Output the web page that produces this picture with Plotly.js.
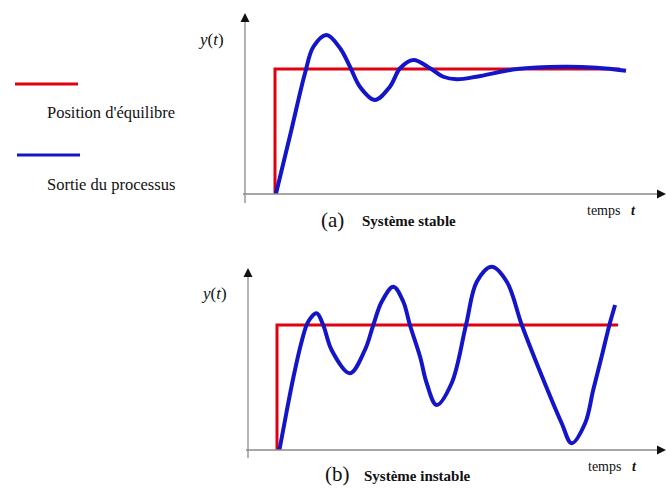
<!DOCTYPE html>
<html>
<head>
<meta charset="utf-8">
<script src="https://cdn.plot.ly/plotly-3.0.1.min.js"></script>
<style>
  html, body { margin: 0; padding: 0; background: #fff; }
  #chart { width: 667px; height: 488px; }
</style>
</head>
<body>
<div id="chart"></div>
<script>
// (a) systeme stable : temps et sortie
const tStable = [1.03, 1.52, 2.0, 2.28, 2.72, 3.17, 3.5, 3.83, 4.33, 4.83, 5.17, 5.61, 6.17, 6.61, 7.06, 7.72, 9.07, 10.6, 11.73, 12.7];
const yStable = [0, 0.486, 0.966, 1.178, 1.272, 1.166, 1.018, 0.858, 0.752, 0.858, 1.006, 1.072, 1.006, 0.938, 0.918, 0.938, 1.0, 1.018, 1.01, 0.986];
const tEqA = [1, 1, 12.5];
const yEqA = [0, 1, 1];

// (b) systeme instable
const tUnstable = [1.08, 1.32, 1.54, 1.82, 2.04, 2.32, 2.54, 2.82, 3.43, 3.93, 4.21, 4.49, 4.88, 5.21, 5.43, 5.77, 5.99, 6.32, 6.82, 7.3, 7.66, 8.16, 8.66, 9.16, 9.77, 10.49, 10.82, 11.27, 11.54, 11.82, 12.08, 12.27];
const yUnstable = [0, 0.306, 0.574, 0.866, 1.026, 1.094, 1.0, 0.8, 0.614, 0.8, 1.0, 1.186, 1.306, 1.186, 1.0, 0.746, 0.534, 0.36, 0.534, 1.0, 1.346, 1.466, 1.346, 1.0, 0.626, 0.214, 0.054, 0.214, 0.48, 0.746, 1.0, 1.16];
const tEqB = [1, 1, 12.37];
const yEqB = [0, 1, 1];

const legendLabels = ["Position d'équilibre", 'Sortie du processus'];
const RED = '#e00010';
const BLUE = '#1414c8';
const W = 667, H = 488;
const FONT = "'Liberation Serif', 'DejaVu Serif', serif";

// conversion pixel -> papier
const px = x => x / W;
const py = y => 1 - y / H;

const traces = [
  { x: tEqA, y: yEqA, xaxis: 'x', yaxis: 'y', mode: 'lines',
    line: { color: RED, width: 3 }, hoverinfo: 'skip' },
  { x: tStable, y: yStable, xaxis: 'x', yaxis: 'y', mode: 'lines',
    line: { color: BLUE, width: 4, shape: 'spline', smoothing: 1 }, hoverinfo: 'skip' },
  { x: tEqB, y: yEqB, xaxis: 'x2', yaxis: 'y2', mode: 'lines',
    line: { color: RED, width: 3 }, hoverinfo: 'skip' },
  { x: tUnstable, y: yUnstable, xaxis: 'x2', yaxis: 'y2', mode: 'lines',
    line: { color: BLUE, width: 4, shape: 'spline', smoothing: 1 }, hoverinfo: 'skip' }
];

function axisLine(x0, y0, x1, y1) {
  return { type: 'line', xref: 'paper', yref: 'paper',
    x0: px(x0), y0: py(y0), x1: px(x1), y1: py(y1),
    line: { color: '#8a8a8a', width: 1.3 } };
}
function arrowHead(x, y, ax, ay) {
  return { xref: 'paper', yref: 'paper', x: px(x), y: py(y), ax: ax, ay: ay,
    text: '', showarrow: true, arrowhead: 2, arrowsize: 1.5, arrowwidth: 1.2,
    arrowcolor: '#111' };
}
function label(text, x, y, size, extra) {
  return Object.assign({ xref: 'paper', yref: 'paper', x: px(x), y: py(y),
    text: text, showarrow: false, xanchor: 'center', yanchor: 'middle',
    font: { family: FONT, size: size, color: '#111' } }, extra || {});
}

const shapes = [
  axisLine(245, 203, 245, 18),
  axisLine(243, 194, 660, 194),
  axisLine(248, 458, 248, 273),
  axisLine(246, 450, 660, 450),
  // legende
  { type: 'line', xref: 'paper', yref: 'paper', x0: px(15), x1: px(78), y0: py(84), y1: py(84),
    line: { color: RED, width: 3 } },
  { type: 'line', xref: 'paper', yref: 'paper', x0: px(17), x1: px(80), y0: py(155), y1: py(155),
    line: { color: BLUE, width: 3 } }
];

const annotations = [
  arrowHead(245, 13, 0, 8),
  arrowHead(666, 194, -8, 0),
  arrowHead(248, 268, 0, 8),
  arrowHead(666, 450, -8, 0),
  label('<i>y</i>(<i>t</i>)', 211, 40, 17),
  label('<i>y</i>(<i>t</i>)', 214, 293, 17),
  label('(a)', 332, 220, 21),
  label('<b>Système stable</b>', 409, 221, 15),
  label('temps   <b><i>t</i></b>', 611, 210, 14),
  label('(b)', 337, 474, 21),
  label('<b>Système instable</b>', 418, 476, 15),
  label('temps   <b><i>t</i></b>', 612, 466, 14),
  label(legendLabels[0], 111, 112, 16.5),
  label(legendLabels[1], 111, 184, 16.5)
];

const layout = {
  width: W, height: H,
  margin: { l: 0, r: 0, t: 0, b: 0 },
  paper_bgcolor: '#fff', plot_bgcolor: 'rgba(0,0,0,0)',
  showlegend: false,
  xaxis: { domain: [px(245), 1], range: [0, (W - 245) / 30], visible: false, fixedrange: true },
  yaxis: { domain: [py(194), py(6.5)], range: [0, 1.5], visible: false, fixedrange: true },
  xaxis2: { domain: [px(247), 1], range: [0, (W - 247) / 30], visible: false, anchor: 'y2', fixedrange: true },
  yaxis2: { domain: [py(450), py(262.5)], range: [0, 1.5], visible: false, anchor: 'x2', fixedrange: true },
  shapes: shapes,
  annotations: annotations
};

Plotly.newPlot('chart', traces, layout, { staticPlot: true, displayModeBar: false });
</script>
</body>
</html>
